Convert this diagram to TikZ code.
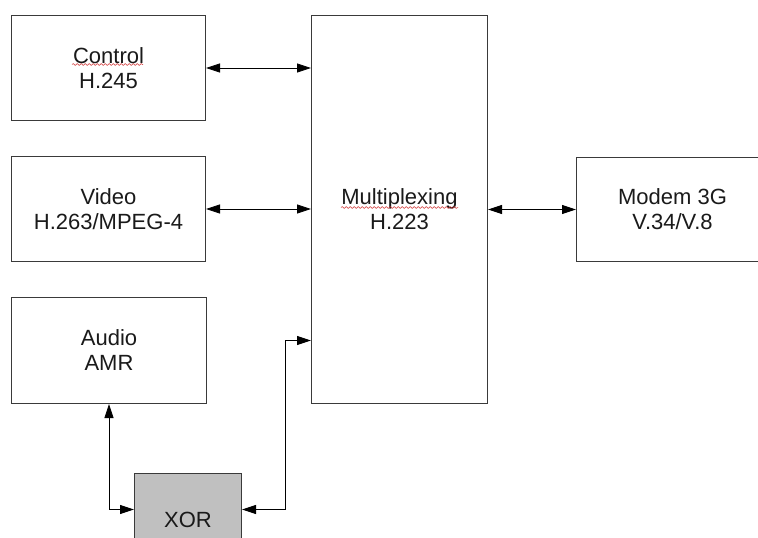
\documentclass[tikz,border=0pt]{standalone}
\usepackage{fontspec}
\setmainfont{Liberation Sans}
\usetikzlibrary{arrows.meta,decorations.pathmorphing}
\definecolor{edgegray}{HTML}{3A3A3A}
\definecolor{inkgray}{HTML}{1A1A1A}
\definecolor{xorfill}{HTML}{C0C0C0}
\definecolor{spellred}{HTML}{D03030}
\begin{document}
\begin{tikzpicture}[x=1pt,y=-1pt,
  block/.style={draw=edgegray, line width=1pt, fill=white, anchor=north west,
    align=center, text=inkgray, inner sep=0pt,
    font=\fontsize{22}{25}\selectfont},
  link/.style={draw=black, line width=0.8pt,
    {Triangle[length=14pt,width=9pt]}-{Triangle[length=14pt,width=9pt]}},
  squiggle/.style={draw=spellred, line width=0.5pt,
    decorate, decoration={snake, amplitude=0.9pt, segment length=4pt}}]
  \useasboundingbox (0,0) rectangle (758,538);
  \begin{scope}
    \clip (0,0) rectangle (758,538);
    % protocol blocks
    \node[block, minimum width=194pt, minimum height=105pt] (ctrl) at (11,15) {Control\\H.245};
    \node[block, minimum width=194pt, minimum height=105pt] (video) at (11,156) {Video\\H.263/MPEG-4};
    \node[block, minimum width=195pt, minimum height=106pt] (audio) at (11,297) {Audio\\AMR};
    \node[block, minimum width=176pt, minimum height=388pt] (mux) at (311,15) {Multiplexing\\H.223};
    \node[block, minimum width=192pt, minimum height=104pt] (modem) at (576,157) {Modem 3G\\V.34/V.8};
    \node[block, fill=xorfill, minimum width=107pt, minimum height=92pt] (xor) at (134,473) {XOR};

    % spell-check marks under two labels
    \draw[squiggle] (72,64.5) -- (143,64.5);
    \draw[squiggle] (341,207.5) -- (458,207.5);

    % connector end points
    \coordinate (xorL) at ([yshift=10pt]xor.west);
    \coordinate (xorR) at ([yshift=10pt]xor.east);
    \coordinate (muxIn) at ([yshift=-131pt]mux.west);

    % connectors
    \draw[link] (ctrl.east) -- (ctrl.east -| mux.west);
    \draw[link] (video.east) -- (video.east -| mux.west);
    \draw[link] (modem.west -| mux.east) -- (modem.west);
    \draw[link] (audio.south) |- (xorL);
    \draw[link] (xorR) -- ++(43,0) |- (muxIn);
  \end{scope}
\end{tikzpicture}
\end{document}
